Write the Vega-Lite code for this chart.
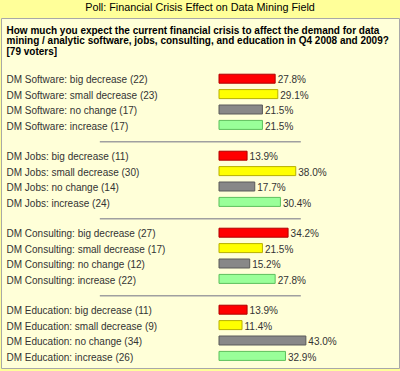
{
  "$schema": "https://vega.github.io/schema/vega-lite/v6.json",
  "autosize": {"type": "none"},
  "width": 398,
  "height": 350,
  "padding": {"left": 1, "top": 18, "right": 1, "bottom": 3},
  "background": "#FFFF99",
  "title": {
    "text": "Poll: Financial Crisis Effect on Data Mining Field",
    "anchor": "middle",
    "frame": "group",
    "font": "Liberation Sans",
    "fontSize": 10.8,
    "fontWeight": "normal",
    "color": "#000000",
    "baseline": "middle",
    "offset": -1
  },
  "data": {
    "values": [
      {"item": "DM Software: big decrease (22)", "change": "big decrease", "votes": 22, "pct": 0.278},
      {"item": "DM Software: small decrease (23)", "change": "small decrease", "votes": 23, "pct": 0.291},
      {"item": "DM Software: no change (17)", "change": "no change", "votes": 17, "pct": 0.215},
      {"item": "DM Software: increase (17)", "change": "increase", "votes": 17, "pct": 0.215},
      {"item": "DM Jobs: big decrease (11)", "change": "big decrease", "votes": 11, "pct": 0.139},
      {"item": "DM Jobs: small decrease (30)", "change": "small decrease", "votes": 30, "pct": 0.380},
      {"item": "DM Jobs: no change (14)", "change": "no change", "votes": 14, "pct": 0.177},
      {"item": "DM Jobs: increase (24)", "change": "increase", "votes": 24, "pct": 0.304},
      {"item": "DM Consulting: big decrease (27)", "change": "big decrease", "votes": 27, "pct": 0.342},
      {"item": "DM Consulting: small decrease (17)", "change": "small decrease", "votes": 17, "pct": 0.215},
      {"item": "DM Consulting: no change (12)", "change": "no change", "votes": 12, "pct": 0.152},
      {"item": "DM Consulting: increase (22)", "change": "increase", "votes": 22, "pct": 0.278},
      {"item": "DM Education: big decrease (11)", "change": "big decrease", "votes": 11, "pct": 0.139},
      {"item": "DM Education: small decrease (9)", "change": "small decrease", "votes": 9, "pct": 0.114},
      {"item": "DM Education: no change (34)", "change": "no change", "votes": 34, "pct": 0.430},
      {"item": "DM Education: increase (26)", "change": "increase", "votes": 26, "pct": 0.329}
    ]
  },
  "encoding": {
    "y": {
      "field": "item",
      "type": "nominal",
      "sort": null,
      "scale": {
        "type": "band",
        "domain": [
          "DM Software: big decrease (22)", "DM Software: small decrease (23)", "DM Software: no change (17)", "DM Software: increase (17)", "sep1",
          "DM Jobs: big decrease (11)", "DM Jobs: small decrease (30)", "DM Jobs: no change (14)", "DM Jobs: increase (24)", "sep2",
          "DM Consulting: big decrease (27)", "DM Consulting: small decrease (17)", "DM Consulting: no change (12)", "DM Consulting: increase (22)", "sep3",
          "DM Education: big decrease (11)", "DM Education: small decrease (9)", "DM Education: no change (34)", "DM Education: increase (26)"
        ],
        "range": [53, 345.6],
        "paddingInner": 0.416,
        "paddingOuter": 0.208
      },
      "axis": {
        "orient": "left",
        "offset": -5,
        "domain": false,
        "ticks": false,
        "tickSize": 0,
        "grid": false,
        "labelPadding": 0,
        "labelAlign": "left",
        "labelBaseline": "middle",
        "labelOffset": 1.7,
        "labelFont": "Liberation Sans",
        "labelFontSize": 10,
        "labelColor": "#333333",
        "labelLimit": 400,
        "labelOverlap": false,
        "labelExpr": "indexof(datum.value, 'sep') === 0 ? '' : datum.label",
        "title": [
          "How much you expect the current financial crisis to affect the demand for data",
          "mining / analytic software, jobs, consulting, and education in Q4 2008 and 2009?",
          "[79 voters]"
        ],
        "titleAngle": 0,
        "titleAlign": "left",
        "titleBaseline": "top",
        "titleX": 0,
        "titleY": 7,
        "titleFont": "Liberation Sans",
        "titleFontSize": 10,
        "titleFontWeight": "bold",
        "titleColor": "#000000",
        "titleLineHeight": 10.7,
        "titleLimit": 400
      }
    }
  },
  "layer": [
    {
      "data": {"values": [{"item": "sep1"}, {"item": "sep2"}, {"item": "sep3"}]},
      "mark": {"type": "rule", "color": "#A0A0A0", "strokeWidth": 1.5, "yOffset": 1.5},
      "encoding": {
        "x": {"datum": -0.59, "type": "quantitative", "scale": {"domain": [0, 1], "range": [218, 420]}, "axis": null},
        "x2": {"datum": 0.405}
      }
    },
    {
      "mark": {"type": "bar", "strokeWidth": 1},
      "encoding": {
        "x": {"field": "pct", "type": "quantitative", "scale": {"domain": [0, 1], "range": [218, 420]}, "axis": null},
        "color": {
          "field": "change",
          "type": "nominal",
          "scale": {"domain": ["big decrease", "small decrease", "no change", "increase"], "range": ["#FF0000", "#FFFF00", "#888888", "#99FF99"]},
          "legend": null
        },
        "stroke": {
          "field": "change",
          "type": "nominal",
          "scale": {"domain": ["big decrease", "small decrease", "no change", "increase"], "range": ["#B00000", "#B8B000", "#5A5A5A", "#5CC05C"]},
          "legend": null
        }
      }
    },
    {
      "mark": {"type": "text", "align": "left", "baseline": "middle", "dx": 2.5, "dy": 1.7, "font": "Liberation Sans", "fontSize": 10, "color": "#333333"},
      "encoding": {
        "x": {"field": "pct", "type": "quantitative", "scale": {"domain": [0, 1], "range": [218, 420]}, "axis": null},
        "text": {"field": "pct", "type": "quantitative", "format": ".1%"}
      }
    }
  ],
  "config": {
    "view": {"fill": "#FFFFD8", "stroke": "#A8A8A8", "strokeWidth": 1}
  }
}
